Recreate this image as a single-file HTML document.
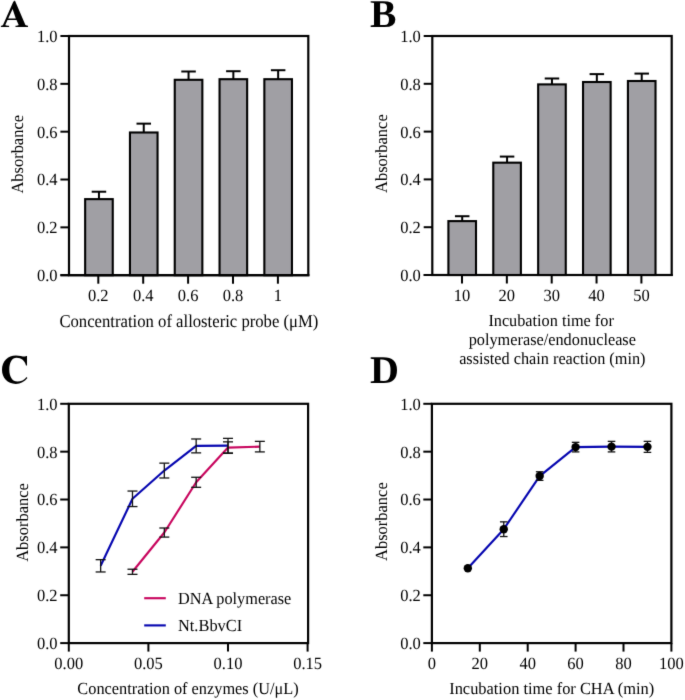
<!DOCTYPE html>
<html><head><meta charset="utf-8"><style>
html,body{margin:0;padding:0;background:#fff;}
body{width:685px;height:700px;overflow:hidden;}
svg{display:block;}
text{text-rendering:geometricPrecision;}
.t{font-family:"Liberation Serif",serif;font-size:16.5px;fill:#000;}
.ti{font-family:"Liberation Serif",serif;font-size:17px;fill:#000;}
.L{font-family:"Liberation Serif",serif;font-size:38px;font-weight:bold;fill:#000;}
</style></head><body>
<svg width="685" height="700" viewBox="0 0 685 700">
<defs><filter id="bl" filterUnits="userSpaceOnUse" x="0" y="0" width="685" height="700" color-interpolation-filters="sRGB"><feConvolveMatrix order="3" kernelMatrix="0.01000 0.08000 0.01000 0.08000 0.64000 0.08000 0.01000 0.08000 0.01000" edgeMode="duplicate" preserveAlpha="true"/></filter></defs>
<g filter="url(#bl)">
<rect width="685" height="700" fill="#fff"/>
<rect x="69" y="36" width="239.3" height="239.2" fill="none" stroke="#000" stroke-width="2.2"/>
<line x1="60.4" y1="275.20" x2="69" y2="275.20" stroke="#000" stroke-width="2"/>
<text class="t" text-anchor="end" transform="translate(57.5,281.10) scale(1,1.035)">0.0</text>
<line x1="60.4" y1="227.36" x2="69" y2="227.36" stroke="#000" stroke-width="2"/>
<text class="t" text-anchor="end" transform="translate(57.5,233.26) scale(1,1.035)">0.2</text>
<line x1="60.4" y1="179.52" x2="69" y2="179.52" stroke="#000" stroke-width="2"/>
<text class="t" text-anchor="end" transform="translate(57.5,185.42) scale(1,1.035)">0.4</text>
<line x1="60.4" y1="131.68" x2="69" y2="131.68" stroke="#000" stroke-width="2"/>
<text class="t" text-anchor="end" transform="translate(57.5,137.58) scale(1,1.035)">0.6</text>
<line x1="60.4" y1="83.84" x2="69" y2="83.84" stroke="#000" stroke-width="2"/>
<text class="t" text-anchor="end" transform="translate(57.5,89.74) scale(1,1.035)">0.8</text>
<line x1="60.4" y1="36.00" x2="69" y2="36.00" stroke="#000" stroke-width="2"/>
<text class="t" text-anchor="end" transform="translate(57.5,41.90) scale(1,1.035)">1.0</text>
<line x1="98.95" y1="199.13" x2="98.95" y2="191.72" stroke="#000" stroke-width="2"/>
<line x1="91.70" y1="191.72" x2="106.20" y2="191.72" stroke="#000" stroke-width="2"/>
<rect x="85.15" y="199.13" width="27.6" height="76.07" fill="#a09fa4" stroke="#000" stroke-width="2.1"/>
<line x1="98.30" y1="275.2" x2="98.30" y2="283.7" stroke="#000" stroke-width="2"/>
<text class="t" text-anchor="middle" transform="translate(98.30,300.6) scale(1,1.035)">0.2</text>
<line x1="143.75" y1="132.49" x2="143.75" y2="123.64" stroke="#000" stroke-width="2"/>
<line x1="136.50" y1="123.64" x2="151.00" y2="123.64" stroke="#000" stroke-width="2"/>
<rect x="129.95" y="132.49" width="27.6" height="142.71" fill="#a09fa4" stroke="#000" stroke-width="2.1"/>
<line x1="143.20" y1="275.2" x2="143.20" y2="283.7" stroke="#000" stroke-width="2"/>
<text class="t" text-anchor="middle" transform="translate(143.20,300.6) scale(1,1.035)">0.4</text>
<line x1="188.55" y1="79.80" x2="188.55" y2="71.50" stroke="#000" stroke-width="2"/>
<line x1="181.30" y1="71.50" x2="195.80" y2="71.50" stroke="#000" stroke-width="2"/>
<rect x="174.75" y="79.80" width="27.6" height="195.40" fill="#a09fa4" stroke="#000" stroke-width="2.1"/>
<line x1="188.10" y1="275.2" x2="188.10" y2="283.7" stroke="#000" stroke-width="2"/>
<text class="t" text-anchor="middle" transform="translate(188.10,300.6) scale(1,1.035)">0.6</text>
<line x1="233.35" y1="79.20" x2="233.35" y2="71.21" stroke="#000" stroke-width="2"/>
<line x1="226.10" y1="71.21" x2="240.60" y2="71.21" stroke="#000" stroke-width="2"/>
<rect x="219.55" y="79.20" width="27.6" height="196.00" fill="#a09fa4" stroke="#000" stroke-width="2.1"/>
<line x1="233.00" y1="275.2" x2="233.00" y2="283.7" stroke="#000" stroke-width="2"/>
<text class="t" text-anchor="middle" transform="translate(233.00,300.6) scale(1,1.035)">0.8</text>
<line x1="278.15" y1="79.20" x2="278.15" y2="70.21" stroke="#000" stroke-width="2"/>
<line x1="270.90" y1="70.21" x2="285.40" y2="70.21" stroke="#000" stroke-width="2"/>
<rect x="264.35" y="79.20" width="27.6" height="196.00" fill="#a09fa4" stroke="#000" stroke-width="2.1"/>
<line x1="277.90" y1="275.2" x2="277.90" y2="283.7" stroke="#000" stroke-width="2"/>
<text class="t" text-anchor="middle" transform="translate(277.90,300.6) scale(1,1.035)">1</text>
<line x1="60.4" y1="275.2" x2="309.40000000000003" y2="275.2" stroke="#000" stroke-width="2.2"/>
<text class="ti" text-anchor="middle" transform="translate(188.90,326.95) scale(0.9810,1.0600)">Concentration of allosteric probe (μM)</text>
<text class="ti" text-anchor="middle" transform="translate(23.20,154.30) rotate(-90) scale(0.9680,1.0000)">Absorbance</text>
<path fill="#000" fill-rule="evenodd" d="M14.9 0.6 L25.4 25.0 C26.2 25.5 27.2 25.7 28.0 25.8 L28.0 27.1 L15.5 27.1 L15.5 25.8 C17.0 25.7 18.3 25.5 18.7 25.0 L16.5 19.9 L7.5 19.9 L5.3 25.0 C6.0 25.6 7.5 25.8 9.1 25.8 L9.1 27.1 L0.9 27.1 L0.9 25.8 C2.0 25.7 2.6 25.4 3.0 25.0 L13.3 1.8 Z M12.6 8.9 L15.8 18.4 L8.2 18.4 Z"/>
<rect x="432.3" y="36" width="239.40000000000003" height="239" fill="none" stroke="#000" stroke-width="2.2"/>
<line x1="423.7" y1="275.00" x2="432.3" y2="275.00" stroke="#000" stroke-width="2"/>
<text class="t" text-anchor="end" transform="translate(420.8,280.90) scale(1,1.035)">0.0</text>
<line x1="423.7" y1="227.20" x2="432.3" y2="227.20" stroke="#000" stroke-width="2"/>
<text class="t" text-anchor="end" transform="translate(420.8,233.10) scale(1,1.035)">0.2</text>
<line x1="423.7" y1="179.40" x2="432.3" y2="179.40" stroke="#000" stroke-width="2"/>
<text class="t" text-anchor="end" transform="translate(420.8,185.30) scale(1,1.035)">0.4</text>
<line x1="423.7" y1="131.60" x2="432.3" y2="131.60" stroke="#000" stroke-width="2"/>
<text class="t" text-anchor="end" transform="translate(420.8,137.50) scale(1,1.035)">0.6</text>
<line x1="423.7" y1="83.80" x2="432.3" y2="83.80" stroke="#000" stroke-width="2"/>
<text class="t" text-anchor="end" transform="translate(420.8,89.70) scale(1,1.035)">0.8</text>
<line x1="423.7" y1="36.00" x2="432.3" y2="36.00" stroke="#000" stroke-width="2"/>
<text class="t" text-anchor="end" transform="translate(420.8,41.90) scale(1,1.035)">1.0</text>
<line x1="462.20" y1="221.11" x2="462.20" y2="216.21" stroke="#000" stroke-width="2"/>
<line x1="454.95" y1="216.21" x2="469.45" y2="216.21" stroke="#000" stroke-width="2"/>
<rect x="448.40" y="221.11" width="27.6" height="53.89" fill="#a09fa4" stroke="#000" stroke-width="2.1"/>
<line x1="462.00" y1="275" x2="462.00" y2="283.5" stroke="#000" stroke-width="2"/>
<text class="t" text-anchor="middle" transform="translate(462.00,300.6) scale(1,1.035)">10</text>
<line x1="507.08" y1="162.67" x2="507.08" y2="156.58" stroke="#000" stroke-width="2"/>
<line x1="499.83" y1="156.58" x2="514.33" y2="156.58" stroke="#000" stroke-width="2"/>
<rect x="493.28" y="162.67" width="27.6" height="112.33" fill="#a09fa4" stroke="#000" stroke-width="2.1"/>
<line x1="506.85" y1="275" x2="506.85" y2="283.5" stroke="#000" stroke-width="2"/>
<text class="t" text-anchor="middle" transform="translate(506.85,300.6) scale(1,1.035)">20</text>
<line x1="551.96" y1="84.40" x2="551.96" y2="78.49" stroke="#000" stroke-width="2"/>
<line x1="544.71" y1="78.49" x2="559.21" y2="78.49" stroke="#000" stroke-width="2"/>
<rect x="538.16" y="84.40" width="27.6" height="190.60" fill="#a09fa4" stroke="#000" stroke-width="2.1"/>
<line x1="551.70" y1="275" x2="551.70" y2="283.5" stroke="#000" stroke-width="2"/>
<text class="t" text-anchor="middle" transform="translate(551.70,300.6) scale(1,1.035)">30</text>
<line x1="596.84" y1="82.01" x2="596.84" y2="74.12" stroke="#000" stroke-width="2"/>
<line x1="589.59" y1="74.12" x2="604.09" y2="74.12" stroke="#000" stroke-width="2"/>
<rect x="583.04" y="82.01" width="27.6" height="192.99" fill="#a09fa4" stroke="#000" stroke-width="2.1"/>
<line x1="596.55" y1="275" x2="596.55" y2="283.5" stroke="#000" stroke-width="2"/>
<text class="t" text-anchor="middle" transform="translate(596.55,300.6) scale(1,1.035)">40</text>
<line x1="641.72" y1="81.00" x2="641.72" y2="73.59" stroke="#000" stroke-width="2"/>
<line x1="634.47" y1="73.59" x2="648.97" y2="73.59" stroke="#000" stroke-width="2"/>
<rect x="627.92" y="81.00" width="27.6" height="194.00" fill="#a09fa4" stroke="#000" stroke-width="2.1"/>
<line x1="641.40" y1="275" x2="641.40" y2="283.5" stroke="#000" stroke-width="2"/>
<text class="t" text-anchor="middle" transform="translate(641.40,300.6) scale(1,1.035)">50</text>
<line x1="423.7" y1="275" x2="672.8000000000001" y2="275" stroke="#000" stroke-width="2.2"/>
<text class="ti" text-anchor="middle" transform="translate(551.10,326.30) scale(0.9558,1.0000)">Incubation time for</text>
<text class="ti" text-anchor="middle" transform="translate(552.30,345.20) scale(0.9575,1.0000)">polymerase/endonuclease</text>
<text class="ti" text-anchor="middle" transform="translate(552.30,364.10) scale(0.9557,1.0000)">assisted chain reaction (min)</text>
<text class="ti" text-anchor="middle" transform="translate(386.50,153.60) rotate(-90) scale(0.9680,1.0000)">Absorbance</text>
<text class="L" text-anchor="start" transform="translate(370.00,27.20) scale(1.0439,1.0400)">B</text>
<rect x="68.8" y="403.8" width="239.3" height="239.3" fill="none" stroke="#000" stroke-width="2.2"/>
<line x1="60.199999999999996" y1="643.10" x2="68.8" y2="643.10" stroke="#000" stroke-width="2"/>
<text class="t" text-anchor="end" transform="translate(57.5,649.00) scale(1,1.035)">0.0</text>
<line x1="60.199999999999996" y1="595.24" x2="68.8" y2="595.24" stroke="#000" stroke-width="2"/>
<text class="t" text-anchor="end" transform="translate(57.5,601.14) scale(1,1.035)">0.2</text>
<line x1="60.199999999999996" y1="547.38" x2="68.8" y2="547.38" stroke="#000" stroke-width="2"/>
<text class="t" text-anchor="end" transform="translate(57.5,553.28) scale(1,1.035)">0.4</text>
<line x1="60.199999999999996" y1="499.52" x2="68.8" y2="499.52" stroke="#000" stroke-width="2"/>
<text class="t" text-anchor="end" transform="translate(57.5,505.42) scale(1,1.035)">0.6</text>
<line x1="60.199999999999996" y1="451.66" x2="68.8" y2="451.66" stroke="#000" stroke-width="2"/>
<text class="t" text-anchor="end" transform="translate(57.5,457.56) scale(1,1.035)">0.8</text>
<line x1="60.199999999999996" y1="403.80" x2="68.8" y2="403.80" stroke="#000" stroke-width="2"/>
<text class="t" text-anchor="end" transform="translate(57.5,409.70) scale(1,1.035)">1.0</text>
<line x1="68.80" y1="643.1" x2="68.80" y2="651.6" stroke="#000" stroke-width="2"/>
<text class="t" text-anchor="middle" transform="translate(68.80,669.4) scale(1,1.035)">0.00</text>
<line x1="148.40" y1="643.1" x2="148.40" y2="651.6" stroke="#000" stroke-width="2"/>
<text class="t" text-anchor="middle" transform="translate(148.40,669.4) scale(1,1.035)">0.05</text>
<line x1="228.00" y1="643.1" x2="228.00" y2="651.6" stroke="#000" stroke-width="2"/>
<text class="t" text-anchor="middle" transform="translate(228.00,669.4) scale(1,1.035)">0.10</text>
<line x1="307.60" y1="643.1" x2="307.60" y2="651.6" stroke="#000" stroke-width="2"/>
<text class="t" text-anchor="middle" transform="translate(307.60,669.4) scale(1,1.035)">0.15</text>
<polyline points="132.48,571.79 164.32,532.54 196.16,482.29 228.00,447.59 259.84,446.63" fill="none" stroke="#c8065e" stroke-width="2.15" stroke-linejoin="round"/>
<polyline points="100.64,565.81 132.48,498.80 164.32,470.56 196.16,445.92 228.00,445.68" fill="none" stroke="#0606b0" stroke-width="2.15" stroke-linejoin="round"/>
<line x1="132.48" y1="569.23" x2="132.48" y2="574.35" stroke="#111" stroke-width="1.3"/>
<line x1="127.48" y1="569.23" x2="137.48" y2="569.23" stroke="#111" stroke-width="1.3"/>
<line x1="127.48" y1="574.35" x2="137.48" y2="574.35" stroke="#111" stroke-width="1.3"/>
<line x1="164.32" y1="528.00" x2="164.32" y2="537.09" stroke="#111" stroke-width="1.3"/>
<line x1="159.32" y1="528.00" x2="169.32" y2="528.00" stroke="#111" stroke-width="1.3"/>
<line x1="159.32" y1="537.09" x2="169.32" y2="537.09" stroke="#111" stroke-width="1.3"/>
<line x1="196.16" y1="477.27" x2="196.16" y2="487.32" stroke="#111" stroke-width="1.3"/>
<line x1="191.16" y1="477.27" x2="201.16" y2="477.27" stroke="#111" stroke-width="1.3"/>
<line x1="191.16" y1="487.32" x2="201.16" y2="487.32" stroke="#111" stroke-width="1.3"/>
<line x1="228.00" y1="441.85" x2="228.00" y2="453.34" stroke="#111" stroke-width="1.3"/>
<line x1="223.00" y1="441.85" x2="233.00" y2="441.85" stroke="#111" stroke-width="1.3"/>
<line x1="223.00" y1="453.34" x2="233.00" y2="453.34" stroke="#111" stroke-width="1.3"/>
<line x1="259.84" y1="441.37" x2="259.84" y2="451.90" stroke="#111" stroke-width="1.3"/>
<line x1="254.84" y1="441.37" x2="264.84" y2="441.37" stroke="#111" stroke-width="1.3"/>
<line x1="254.84" y1="451.90" x2="264.84" y2="451.90" stroke="#111" stroke-width="1.3"/>
<line x1="100.64" y1="559.66" x2="100.64" y2="571.96" stroke="#111" stroke-width="1.3"/>
<line x1="95.64" y1="559.66" x2="105.64" y2="559.66" stroke="#111" stroke-width="1.3"/>
<line x1="95.64" y1="571.96" x2="105.64" y2="571.96" stroke="#111" stroke-width="1.3"/>
<line x1="132.48" y1="491.05" x2="132.48" y2="506.56" stroke="#111" stroke-width="1.3"/>
<line x1="127.48" y1="491.05" x2="137.48" y2="491.05" stroke="#111" stroke-width="1.3"/>
<line x1="127.48" y1="506.56" x2="137.48" y2="506.56" stroke="#111" stroke-width="1.3"/>
<line x1="164.32" y1="463.15" x2="164.32" y2="477.98" stroke="#111" stroke-width="1.3"/>
<line x1="159.32" y1="463.15" x2="169.32" y2="463.15" stroke="#111" stroke-width="1.3"/>
<line x1="159.32" y1="477.98" x2="169.32" y2="477.98" stroke="#111" stroke-width="1.3"/>
<line x1="196.16" y1="438.98" x2="196.16" y2="452.86" stroke="#111" stroke-width="1.3"/>
<line x1="191.16" y1="438.98" x2="201.16" y2="438.98" stroke="#111" stroke-width="1.3"/>
<line x1="191.16" y1="452.86" x2="201.16" y2="452.86" stroke="#111" stroke-width="1.3"/>
<line x1="228.00" y1="438.38" x2="228.00" y2="452.98" stroke="#111" stroke-width="1.3"/>
<line x1="223.00" y1="438.38" x2="233.00" y2="438.38" stroke="#111" stroke-width="1.3"/>
<line x1="223.00" y1="452.98" x2="233.00" y2="452.98" stroke="#111" stroke-width="1.3"/>
<line x1="144.2" y1="598.2" x2="165.8" y2="598.2" stroke="#c8065e" stroke-width="2.15"/>
<line x1="144.2" y1="625.4" x2="165.8" y2="625.4" stroke="#0606b0" stroke-width="2.15"/>
<text class="ti" text-anchor="start" transform="translate(178.00,603.70) scale(0.9556,1.0000)">DNA polymerase</text>
<text class="ti" text-anchor="start" transform="translate(178.00,630.70) scale(0.9631,1.0000)">Nt.BbvCI</text>
<text class="ti" text-anchor="middle" transform="translate(188.00,694.00) scale(0.9600,1.0000)">Concentration of enzymes (U/μL)</text>
<text class="ti" text-anchor="middle" transform="translate(28.10,522.50) rotate(-90) scale(0.9680,1.0000)">Absorbance</text>
<path fill="#000" d="M27.0 356.0 L27.0 365.6 L26.0 365.6 C24.8 360.6 21.3 357.8 16.6 357.8 C12.0 357.8 9.3 362.5 9.3 369.6 C9.3 377.0 12.4 381.6 17.4 381.6 C21.2 381.6 24.3 379.8 26.6 376.9 L27.4 378.0 C24.5 381.8 20.6 383.9 15.8 383.9 C7.4 383.9 2.0 377.8 2.0 369.8 C2.0 361.4 7.8 355.5 15.9 355.5 C19.5 355.5 22.5 356.6 24.4 356.6 C25.2 356.6 25.7 356.4 26.0 356.0 Z"/>
<rect x="431.9" y="403.8" width="239.5" height="239.3" fill="none" stroke="#000" stroke-width="2.2"/>
<line x1="423.29999999999995" y1="643.10" x2="431.9" y2="643.10" stroke="#000" stroke-width="2"/>
<text class="t" text-anchor="end" transform="translate(420.8,649.00) scale(1,1.035)">0.0</text>
<line x1="423.29999999999995" y1="595.24" x2="431.9" y2="595.24" stroke="#000" stroke-width="2"/>
<text class="t" text-anchor="end" transform="translate(420.8,601.14) scale(1,1.035)">0.2</text>
<line x1="423.29999999999995" y1="547.38" x2="431.9" y2="547.38" stroke="#000" stroke-width="2"/>
<text class="t" text-anchor="end" transform="translate(420.8,553.28) scale(1,1.035)">0.4</text>
<line x1="423.29999999999995" y1="499.52" x2="431.9" y2="499.52" stroke="#000" stroke-width="2"/>
<text class="t" text-anchor="end" transform="translate(420.8,505.42) scale(1,1.035)">0.6</text>
<line x1="423.29999999999995" y1="451.66" x2="431.9" y2="451.66" stroke="#000" stroke-width="2"/>
<text class="t" text-anchor="end" transform="translate(420.8,457.56) scale(1,1.035)">0.8</text>
<line x1="423.29999999999995" y1="403.80" x2="431.9" y2="403.80" stroke="#000" stroke-width="2"/>
<text class="t" text-anchor="end" transform="translate(420.8,409.70) scale(1,1.035)">1.0</text>
<line x1="431.90" y1="643.1" x2="431.90" y2="651.6" stroke="#000" stroke-width="2"/>
<text class="t" text-anchor="middle" transform="translate(431.90,669.4) scale(1,1.035)">0</text>
<line x1="479.80" y1="643.1" x2="479.80" y2="651.6" stroke="#000" stroke-width="2"/>
<text class="t" text-anchor="middle" transform="translate(479.80,669.4) scale(1,1.035)">20</text>
<line x1="527.70" y1="643.1" x2="527.70" y2="651.6" stroke="#000" stroke-width="2"/>
<text class="t" text-anchor="middle" transform="translate(527.70,669.4) scale(1,1.035)">40</text>
<line x1="575.60" y1="643.1" x2="575.60" y2="651.6" stroke="#000" stroke-width="2"/>
<text class="t" text-anchor="middle" transform="translate(575.60,669.4) scale(1,1.035)">60</text>
<line x1="623.50" y1="643.1" x2="623.50" y2="651.6" stroke="#000" stroke-width="2"/>
<text class="t" text-anchor="middle" transform="translate(623.50,669.4) scale(1,1.035)">80</text>
<line x1="671.40" y1="643.1" x2="671.40" y2="651.6" stroke="#000" stroke-width="2"/>
<text class="t" text-anchor="middle" transform="translate(671.40,669.4) scale(1,1.035)">100</text>
<polyline points="467.82,568.32 503.75,529.19 539.67,476.07 575.60,447.11 611.52,446.63 647.45,446.87" fill="none" stroke="#0606b0" stroke-width="2.15" stroke-linejoin="round"/>
<circle cx="467.82" cy="568.32" r="4.2" fill="#000"/>
<line x1="503.75" y1="521.85" x2="503.75" y2="536.54" stroke="#111" stroke-width="1.3"/>
<line x1="499.95" y1="521.85" x2="507.55" y2="521.85" stroke="#111" stroke-width="1.3"/>
<line x1="499.95" y1="536.54" x2="507.55" y2="536.54" stroke="#111" stroke-width="1.3"/>
<circle cx="503.75" cy="529.19" r="4.2" fill="#000"/>
<line x1="539.67" y1="471.76" x2="539.67" y2="480.38" stroke="#111" stroke-width="1.3"/>
<line x1="535.88" y1="471.76" x2="543.47" y2="471.76" stroke="#111" stroke-width="1.3"/>
<line x1="535.88" y1="480.38" x2="543.47" y2="480.38" stroke="#111" stroke-width="1.3"/>
<circle cx="539.67" cy="476.07" r="4.2" fill="#000"/>
<line x1="575.60" y1="442.33" x2="575.60" y2="451.90" stroke="#111" stroke-width="1.3"/>
<line x1="571.80" y1="442.33" x2="579.40" y2="442.33" stroke="#111" stroke-width="1.3"/>
<line x1="571.80" y1="451.90" x2="579.40" y2="451.90" stroke="#111" stroke-width="1.3"/>
<circle cx="575.60" cy="447.11" r="4.2" fill="#000"/>
<line x1="611.52" y1="441.37" x2="611.52" y2="451.90" stroke="#111" stroke-width="1.3"/>
<line x1="607.73" y1="441.37" x2="615.32" y2="441.37" stroke="#111" stroke-width="1.3"/>
<line x1="607.73" y1="451.90" x2="615.32" y2="451.90" stroke="#111" stroke-width="1.3"/>
<circle cx="611.52" cy="446.63" r="4.2" fill="#000"/>
<line x1="647.45" y1="441.37" x2="647.45" y2="452.38" stroke="#111" stroke-width="1.3"/>
<line x1="643.65" y1="441.37" x2="651.25" y2="441.37" stroke="#111" stroke-width="1.3"/>
<line x1="643.65" y1="452.38" x2="651.25" y2="452.38" stroke="#111" stroke-width="1.3"/>
<circle cx="647.45" cy="446.87" r="4.2" fill="#000"/>
<text class="ti" text-anchor="middle" transform="translate(551.70,693.90) scale(0.9650,1.0000)">Incubation time for CHA (min)</text>
<text class="ti" text-anchor="middle" transform="translate(386.50,521.60) rotate(-90) scale(0.9680,1.0000)">Absorbance</text>
<text class="L" text-anchor="start" transform="translate(370.00,383.20) scale(1.0561,1.0323)">D</text>
</g>
</svg>
</body></html>
